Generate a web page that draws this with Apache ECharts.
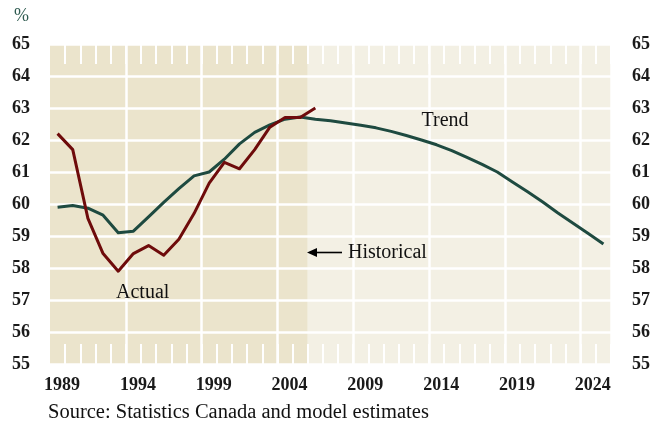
<!DOCTYPE html>
<html>
<head>
<meta charset="utf-8">
<script src="https://cdn.jsdelivr.net/npm/echarts@6/dist/echarts.min.js"></script>
<style>
html,body{margin:0;padding:0;background:#fff;}
#chart{width:664px;height:424px;}
</style>
</head>
<body>
<div id="chart"></div>
<script>
// ---- data ----
var years = [];
for (var y = 1989; y <= 2025; y++) years.push(String(y));
var actual = [62.2, 61.7, 59.55, 58.45, 57.9, 58.45, 58.7, 58.4, 58.9, 59.7, 60.65, 61.3, 61.1, 61.7, 62.4, 62.7, 62.7, 63.0];
var trend = [59.9, 59.95, 59.87, 59.65, 59.1, 59.15, 59.6, 60.05, 60.48, 60.88, 61.0, 61.4, 61.88, 62.24, 62.47, 62.65, 62.72,
             62.65, 62.6, 62.53, 62.46, 62.38, 62.27, 62.14, 62.0, 61.85, 61.67, 61.46, 61.24, 61.0, 60.69, 60.38, 60.06,
             59.72, 59.4, 59.08, 58.75];
var historicalRange = [1988.5, 2005.5];
var projectionRange = [2005.5, 2025.5];
var yMin = 55, yMax = 65;

var FONT = '"Liberation Serif", "Times New Roman", serif';

var chart = echarts.init(document.getElementById('chart'), null, {renderer: 'canvas'});

var tickIntervalFn = function (i) { return i > 0 && i < years.length; };
var majorFn = function (i) { return i > 0 && i % 5 === 0 && i < years.length; };

var option = {
  animation: false,
  backgroundColor: '#ffffff',
  grid: {left: 50, right: 53, top: 44, bottom: 60, containLabel: false},
  xAxis: [
    {
      type: 'category', data: years, position: 'bottom', boundaryGap: true, z: 3,
      axisLine: {show: false},
      axisTick: {show: true, inside: true, length: 20, interval: tickIntervalFn, lineStyle: {color: '#ffffff', width: 2}},
      splitLine: {show: true, interval: majorFn, lineStyle: {color: '#ffffff', width: 2.5}},
      axisLabel: {interval: 4, margin: 12, fontFamily: FONT, fontSize: 18, fontWeight: 'bold', color: '#1a1a1a', padding: [0, 0, 0, 9]}
    },
    {
      type: 'category', data: years, position: 'top', boundaryGap: true, z: 3,
      axisLine: {show: false},
      axisTick: {show: true, inside: true, length: 20, interval: tickIntervalFn, lineStyle: {color: '#ffffff', width: 2}},
      splitLine: {show: false},
      axisLabel: {show: false}
    },
    {
      type: 'value', min: 1988.5, max: 2025.5, show: false,
      splitLine: {show: false}, axisTick: {show: false}, axisLabel: {show: false}, axisLine: {show: false}
    }
  ],
  yAxis: [
    {
      type: 'value', min: yMin, max: yMax, interval: 1, position: 'left', z: 3,
      axisLine: {show: false}, axisTick: {show: false},
      splitLine: {show: true, lineStyle: {color: '#ffffff', width: 2.5}},
      axisLabel: {margin: 20, fontFamily: FONT, fontSize: 18, fontWeight: 'bold', color: '#1a1a1a', padding: [0, 0, 3, 0]}
    },
    {
      type: 'value', min: yMin, max: yMax, interval: 1, position: 'right', z: 3,
      axisLine: {show: false}, axisTick: {show: false}, splitLine: {show: false},
      axisLabel: {margin: 21, fontFamily: FONT, fontSize: 18, fontWeight: 'bold', color: '#1a1a1a', padding: [0, 0, 3, 0]}
    }
  ],
  series: [
    {
      name: 'bg', type: 'line', xAxisIndex: 2, yAxisIndex: 0, z: 1,
      data: [[historicalRange[0], yMin]], showSymbol: false, lineStyle: {opacity: 0}, silent: true,
      markArea: {
        silent: true,
        data: [
          [{xAxis: historicalRange[0], itemStyle: {color: '#ebe4cc'}}, {xAxis: historicalRange[1]}],
          [{xAxis: projectionRange[0], itemStyle: {color: '#f3f0e4'}}, {xAxis: projectionRange[1]}]
        ]
      }
    },
    {
      name: 'Trend', type: 'line', xAxisIndex: 0, yAxisIndex: 0, z: 10,
      data: trend, showSymbol: false, symbol: 'none',
      lineStyle: {color: '#1e4a40', width: 3, join: 'round'}
    },
    {
      name: 'Actual', type: 'line', xAxisIndex: 0, yAxisIndex: 0, z: 11,
      data: actual, showSymbol: false, symbol: 'none',
      lineStyle: {color: '#6e0b0b', width: 3, join: 'round'}
    }
  ],
  graphic: [
    {type: 'text', left: 14, top: 7, style: {text: '%', font: '18px ' + FONT, fill: '#2f5b50'}},
    {type: 'text', x: 421.5, y: 121, style: {text: 'Trend', font: '20px ' + FONT, fill: '#111', verticalAlign: 'middle'}, z: 20},
    {type: 'text', x: 116, y: 293, style: {text: 'Actual', font: '20px ' + FONT, fill: '#111', verticalAlign: 'middle'}, z: 20},
    {type: 'text', x: 348, y: 252.5, style: {text: 'Historical', font: '20px ' + FONT, fill: '#111', verticalAlign: 'middle'}, z: 20},
    {type: 'line', shape: {x1: 314, y1: 252.5, x2: 342, y2: 252.5}, style: {stroke: '#000', lineWidth: 1.6}, z: 20},
    {type: 'polygon', shape: {points: [[307, 252.5], [317, 248], [317, 257]]}, style: {fill: '#000'}, z: 20},
    {type: 'text', x: 48, y: 412.5, style: {text: 'Source: Statistics Canada and model estimates', font: '20.5px ' + FONT, fill: '#111', verticalAlign: 'middle'}, z: 20}
  ]
};
chart.setOption(option);
</script>
</body>
</html>
